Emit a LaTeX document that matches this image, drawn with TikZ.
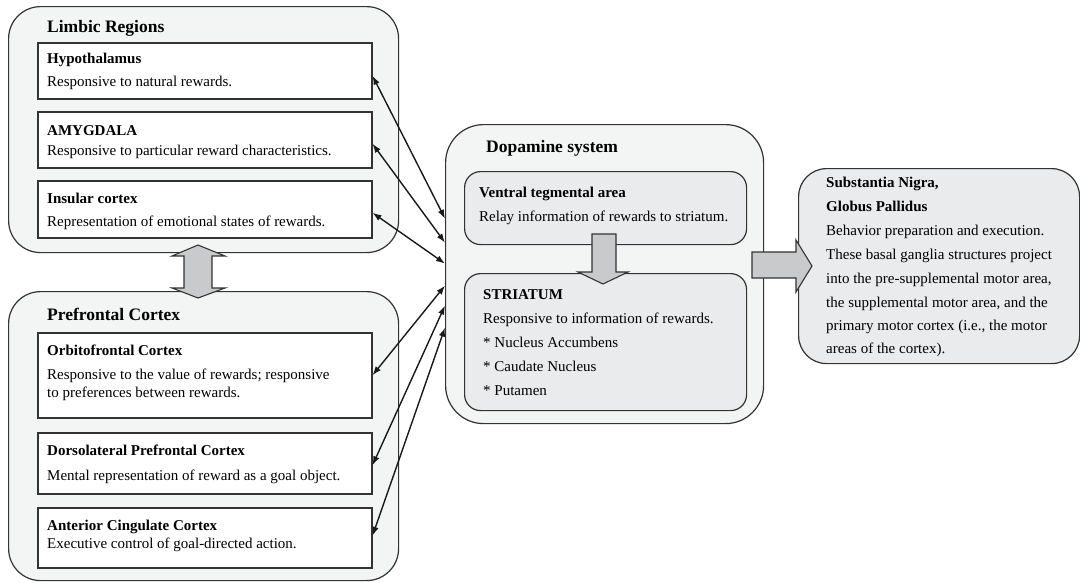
\documentclass[tikz,border=0pt]{standalone}
\usepackage{fontspec}
\setmainfont{Liberation Serif}
\usetikzlibrary{arrows.meta}

\definecolor{edge}{HTML}{333333}
\definecolor{panel}{HTML}{F3F4F4}
\definecolor{inner}{HTML}{EAEBEC}
\definecolor{blk}{HTML}{C9CACB}

\tikzset{
  group/.style={draw=edge, line width=1.2pt, fill=panel, rounded corners=32pt,
    anchor=north west, inner sep=0pt},
  card/.style={draw=edge, line width=1.5pt, fill=white, anchor=north west, inner sep=0pt},
  subgroup/.style={draw=edge, line width=1.2pt, fill=inner, rounded corners=16pt,
    anchor=north west, inner sep=0pt},
  head/.style={anchor=base west, inner sep=0pt, font=\fontsize{17.5}{20}\selectfont\bfseries},
  title/.style={anchor=base west, inner sep=0pt, font=\fontsize{15}{18}\selectfont\bfseries},
  body/.style={anchor=base west, inner sep=0pt, font=\fontsize{15}{18}\selectfont},
  link/.style={{Latex[length=9pt,width=6.5pt]}-{Latex[length=9pt,width=6.5pt]},
    line width=1.4pt, draw=black!90},
  block/.style={draw=edge, line width=1.1pt, fill=blk, line join=miter},
}

\begin{document}
\begin{tikzpicture}[x=1pt, y=-1pt]
\useasboundingbox (0,0) rectangle (1080,582);

% ---- Limbic regions ----
\node[group, minimum width=390pt, minimum height=246pt] (limbic) at (8,6) {};
\node[head] (limbicT) at (47,32) {Limbic Regions};
\node[card, minimum width=334pt, minimum height=56pt] (hyp) at (37,42) {};
\node[title] (hypT) at (47,63) {Hypothalamus};
\node[body] (hypB) at (47,86) {Responsive to natural rewards.};
\node[card, minimum width=334pt, minimum height=56pt] (amy) at (37,111) {};
\node[title] (amyT) at (47,135) {AMYGDALA};
\node[body] (amyB) at (47,155) {Responsive to particular reward characteristics.};
\node[card, minimum width=334pt, minimum height=57pt] (ins) at (37,180) {};
\node[title] (insT) at (47,203) {Insular cortex};
\node[body] (insB) at (47,226) {Representation of emotional states of rewards.};

% ---- Prefrontal cortex ----
\node[group, minimum width=390pt, minimum height=289pt] (pfc) at (8,291) {};
\node[head] (pfcT) at (47,320) {Prefrontal Cortex};
\node[card, minimum width=334pt, minimum height=85pt] (ofc) at (37,332) {};
\node[title] (ofcT) at (47,355) {Orbitofrontal Cortex};
\node[body] (ofcB1) at (47,379) {Responsive to the value of rewards; responsive};
\node[body] (ofcB2) at (47,397) {to preferences between rewards.};
\node[card, minimum width=334pt, minimum height=61pt] (dlp) at (37,432) {};
\node[title] (dlpT) at (47,455) {Dorsolateral Prefrontal Cortex};
\node[body] (dlpB) at (47,480) {Mental representation of reward as a goal object.};
\node[card, minimum width=334pt, minimum height=60pt] (acc) at (37,507) {};
\node[title] (accT) at (47,530) {Anterior Cingulate Cortex};
\node[body] (accB) at (47,548) {Executive control of goal-directed action.};

% ---- Dopamine system ----
\node[group, rounded corners=38pt, minimum width=318pt, minimum height=299pt] (dopa) at (445,124) {};
\node[head] (dopaT) at (486,152) {Dopamine system};
\node[subgroup, minimum width=282pt, minimum height=73pt] (vta) at (464,171) {};
\node[title] (vtaT) at (479,197) {Ventral tegmental area};
\node[body] (vtaB) at (479,221) {Relay information of rewards to striatum.};
\node[subgroup, minimum width=282pt, minimum height=137pt] (str) at (464,273) {};
\node[title] (strT) at (483,299) {STRIATUM};
\node[body] (strB1) at (483,323) {Responsive to information of rewards.};
\node[body] (strB2) at (483,347) {* Nucleus Accumbens};
\node[body] (strB3) at (483,371) {* Caudate Nucleus};
\node[body] (strB4) at (483,395) {* Putamen};

% ---- Basal ganglia output ----
\node[subgroup, rounded corners=28pt, minimum width=281pt, minimum height=195pt] (sng) at (798,168) {};
\node[title] (sngT1) at (826,187) {Substantia Nigra,};
\node[title] (sngT2) at (826,211) {Globus Pallidus};
\node[body] (sngB1) at (826,235) {Behavior preparation and execution.};
\node[body] (sngB2) at (826,259) {These basal ganglia structures project};
\node[body] (sngB3) at (826,283) {into the pre-supplemental motor area,};
\node[body] (sngB4) at (826,307) {the supplemental motor area, and the};
\node[body] (sngB5) at (826,330) {primary motor cortex (i.e., the motor};
\node[body] (sngB6) at (826,353) {areas of the cortex).};

% ---- block arrows ----
\draw[block] (198,245) -- (225,256) -- (212,256) -- (212,288) -- (225,288) -- (198,298)
  -- (172,288) -- (184,288) -- (184,256) -- (172,256) -- cycle;
\draw[block] (592,234) -- (616,234) -- (616,272) -- (628,272) -- (603,284)
  -- (578,272) -- (592,272) -- cycle;
\draw[block] (752,252) -- (796,252) -- (796,240) -- (812,266) -- (796,292)
  -- (796,278) -- (752,278) -- cycle;

% ---- reciprocal connections with the dopamine system ----
\draw[link] ([yshift=-5pt]hyp.east) -- ([yshift=55.5pt]dopa.west);
\draw[link] ([yshift=-4pt]amy.east) -- ([yshift=31.5pt]dopa.west);
\draw[link] ([yshift=-3.5pt]ins.east) -- ([yshift=10.5pt]dopa.west);
\draw[link] (ofc.east) -- ([yshift=-11.5pt]dopa.west);
\draw[link] ([yshift=-2pt]dlp.east) -- ([yshift=-31.5pt]dopa.west);
\draw[link] ([yshift=2pt]acc.east) -- ([yshift=-53.5pt]dopa.west);
\end{tikzpicture}
\end{document}
